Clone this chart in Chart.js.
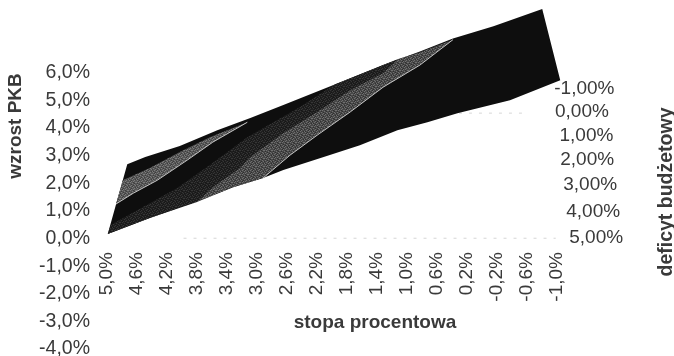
<!DOCTYPE html>
<html lang="pl">
<head>
<meta charset="utf-8">
<title>wzrost PKB</title>
<script src="https://cdn.jsdelivr.net/npm/chart.js@4"></script>
<style>
    html, body { margin: 0; padding: 0; background: #fff; }
    canvas { display: block; }
</style>
</head>
<body>
<canvas id="surfaceChart" width="674" height="356"></canvas>
<script>
// Tick labels
const rateTicks = [5.0, 4.6, 4.2, 3.8, 3.4, 3.0, 2.6, 2.2, 1.8, 1.4, 1.0, 0.6, 0.2, -0.2, -0.6, -1.0];
const growthTicks = [6, 5, 4, 3, 2, 1, 0, -1, -2, -3, -4];
const deficitLabels = ['-1,00%', '0,00%', '1,00%', '2,00%', '3,00%', '4,00%', '5,00%'];
const deficitTickRate = [-0.96, -0.97, -1.03, -1.04, -1.08, -1.12, -1.16];
const deficitTickGrowth = [5.41, 4.58, 3.71, 2.84, 1.94, 0.96, 0.01];

// Whole surface outline
const surfaceRate = [4.99, 4.73, 4.49, 4.03, 3.53, 3.09, 2.65, 1.89, 1.32, 0.83, 0.39, -0.15, -0.80, -1.04, -0.37, 0.33, 0.73, 1.13, 1.63, 2.03, 2.65, 2.92, 3.32, 3.76, 4.43];
const surfaceGrowth = [0.16, 2.69, 2.95, 3.35, 3.92, 4.36, 4.83, 5.66, 6.28, 6.77, 7.24, 7.69, 8.31, 5.73, 5.01, 4.54, 4.21, 3.92, 3.38, 3.02, 2.48, 2.19, 1.86, 1.39, 0.74];

// Upper light band
const upperBandRate = [4.79, 4.43, 4.03, 3.63, 3.13, 3.59, 3.93, 4.33, 4.65, 4.88];
const upperBandGrowth = [2.11, 2.55, 3.13, 3.67, 4.21, 3.49, 2.84, 2.11, 1.64, 1.25];

// Dark stippled band
const midBandRate = [4.99, 4.95, 4.52, 4.07, 3.63, 3.13, 2.43, 1.96, 1.89, 1.32, 1.12, 1.32, 1.76, 2.20, 2.65, 3.09, 3.23, 3.59, 3.80, 4.43];
const midBandGrowth = [0.16, 0.49, 1.14, 1.82, 2.66, 3.67, 4.76, 5.59, 5.66, 6.28, 6.50, 5.99, 5.37, 4.58, 3.82, 2.95, 2.55, 1.86, 1.32, 0.74];

// Lower light band
const lowerBandRate = [3.80, 3.59, 3.23, 3.09, 2.65, 2.20, 1.76, 1.32, 1.12, 0.83, 0.39, 0.83, 1.32, 1.76, 2.20, 2.56, 2.92, 3.32];
const lowerBandGrowth = [1.32, 1.86, 2.55, 2.95, 3.82, 4.58, 5.37, 5.99, 6.50, 6.74, 7.20, 6.28, 5.48, 4.58, 3.74, 3.02, 2.19, 1.86];

// Pale edges under the light bands
const upperEdgeRate = [4.88, 4.65, 4.33, 3.93, 3.59, 3.13];
const upperEdgeGrowth = [1.25, 1.64, 2.11, 2.84, 3.49, 4.21];
const lowerEdgeRate = [2.92, 2.56, 2.20, 1.76, 1.32, 0.83, 0.39];
const lowerEdgeGrowth = [2.19, 3.02, 3.74, 4.58, 5.48, 6.28, 7.20];

// Faint remains of the floor gridlines
const floorRate = [3.98, -0.98];
const floorGrowth = [0.01, 0.01];
const backFloorRate = [0.31, -0.60];
const backFloorGrowth = [4.54, 4.54];

// Stipple layout: 0 = base, 1 = speck, 2 = shadow
const stippleCells = [
    [0, 1, 0, 2, 0, 0, 1, 0],
    [2, 0, 0, 1, 0, 2, 0, 1],
    [0, 0, 1, 0, 2, 1, 0, 0],
    [1, 2, 0, 0, 1, 0, 0, 2],
    [0, 1, 0, 2, 0, 0, 1, 0],
    [0, 0, 2, 1, 0, 1, 0, 0],
    [1, 0, 1, 0, 0, 2, 0, 1],
    [0, 2, 0, 0, 1, 0, 2, 0]
];

function makeStipple(base, speck, shadow) {
    const tile = document.createElement('canvas');
    tile.width = 8;
    tile.height = 8;
    const tileCtx = tile.getContext('2d');
    stippleCells.forEach((row, y) => {
        row.forEach((cell, x) => {
            tileCtx.fillStyle = [base, speck, shadow][cell];
            tileCtx.fillRect(x, y, 1, 1);
        });
    });
    return tileCtx.createPattern(tile, 'repeat');
}

function toPoints(rates, growths) {
    return rates.map((rate, i) => ({ x: rate, y: growths[i] }));
}

function shape(rates, growths, fillStyle) {
    return {
        data: toPoints(rates, growths),
        showLine: true,
        fill: 'shape',
        backgroundColor: fillStyle,
        borderWidth: 0,
        pointRadius: 0
    };
}

function edge(rates, growths) {
    return {
        data: toPoints(rates, growths),
        showLine: true,
        fill: false,
        borderColor: '#c4c4c4',
        borderWidth: 1,
        pointRadius: 0
    };
}

function floorLine(rates, growths) {
    return {
        data: toPoints(rates, growths),
        showLine: true,
        fill: false,
        borderColor: '#d6d6d6',
        borderWidth: 1,
        borderDash: [3, 7],
        pointRadius: 0
    };
}

const tickFont = { family: '"Liberation Sans", Arial, sans-serif', size: 19 };
const textColor = '#3a3a3a';

// Depth axis and the three axis titles
const depthAxisPlugin = {
    id: 'depthAxis',
    afterDraw(chart) {
        const { ctx, scales } = chart;
        ctx.save();
        ctx.fillStyle = textColor;
        ctx.font = '19px "Liberation Sans", Arial, sans-serif';
        ctx.textAlign = 'left';
        ctx.textBaseline = 'middle';
        deficitLabels.forEach((label, i) => {
            ctx.fillText(label, scales.x.getPixelForValue(deficitTickRate[i]), scales.y.getPixelForValue(deficitTickGrowth[i]));
        });

        ctx.font = 'bold 19px "Liberation Sans", Arial, sans-serif';
        ctx.textAlign = 'center';
        ctx.fillText('stopa procentowa', 375, 323);

        ctx.translate(16, 126);
        ctx.rotate(-Math.PI / 2);
        ctx.fillText('wzrost PKB', 0, 0);
        ctx.rotate(Math.PI / 2);
        ctx.translate(-16, -126);

        ctx.translate(667, 192);
        ctx.rotate(-Math.PI / 2);
        ctx.font = 'bold 19.5px "Liberation Sans", Arial, sans-serif';
        ctx.fillText('deficyt budżetowy', 0, 0);
        ctx.restore();
    }
};

new Chart(document.getElementById('surfaceChart'), {
    type: 'scatter',
    data: {
        datasets: [
            edge(upperEdgeRate, upperEdgeGrowth),
            edge(lowerEdgeRate, lowerEdgeGrowth),
            shape(upperBandRate, upperBandGrowth, makeStipple('#565656', '#7c7c7c', '#3e3e3e')),
            shape(lowerBandRate, lowerBandGrowth, makeStipple('#484848', '#707070', '#303030')),
            shape(midBandRate, midBandGrowth, makeStipple('#1f1f1f', '#363636', '#161616')),
            shape(surfaceRate, surfaceGrowth, '#0e0e0e'),
            floorLine(floorRate, floorGrowth),
            floorLine(backFloorRate, backFloorGrowth)
        ]
    },
    options: {
        responsive: false,
        animation: false,
        layout: { padding: { left: 0, right: 113, top: 1, bottom: 7 } },
        plugins: { legend: { display: false }, tooltip: { enabled: false } },
        scales: {
            x: {
                type: 'linear',
                reverse: true,
                min: -1.05,
                max: 5,
                position: { y: -0.2 },
                grid: { display: false },
                border: { display: false },
                // the axis sits inside the plot, so it must not take any layout space
                afterFit(scale) {
                    scale.height = 0;
                    scale.paddingLeft = 0;
                    scale.paddingRight = 0;
                },
                afterBuildTicks(scale) {
                    scale.ticks = rateTicks.map(value => ({ value }));
                },
                ticks: {
                    autoSkip: false,
                    minRotation: 90,
                    maxRotation: 90,
                    padding: 0,
                    color: textColor,
                    font: tickFont,
                    callback: value => value.toFixed(1).replace('.', ',') + '%'
                }
            },
            y: {
                type: 'linear',
                min: -4,
                max: 8.6,
                grid: { display: false },
                border: { display: false },
                afterFit(scale) {
                    scale.width = 107;
                    scale.paddingTop = 0;
                    scale.paddingBottom = 0;
                },
                afterBuildTicks(scale) {
                    scale.ticks = growthTicks.map(value => ({ value }));
                },
                ticks: {
                    autoSkip: false,
                    padding: 9,
                    color: textColor,
                    font: { family: tickFont.family, size: 19.5 },
                    callback: value => value.toFixed(1).replace('.', ',') + '%'
                }
            }
        }
    },
    plugins: [depthAxisPlugin]
});
</script>
</body>
</html>
